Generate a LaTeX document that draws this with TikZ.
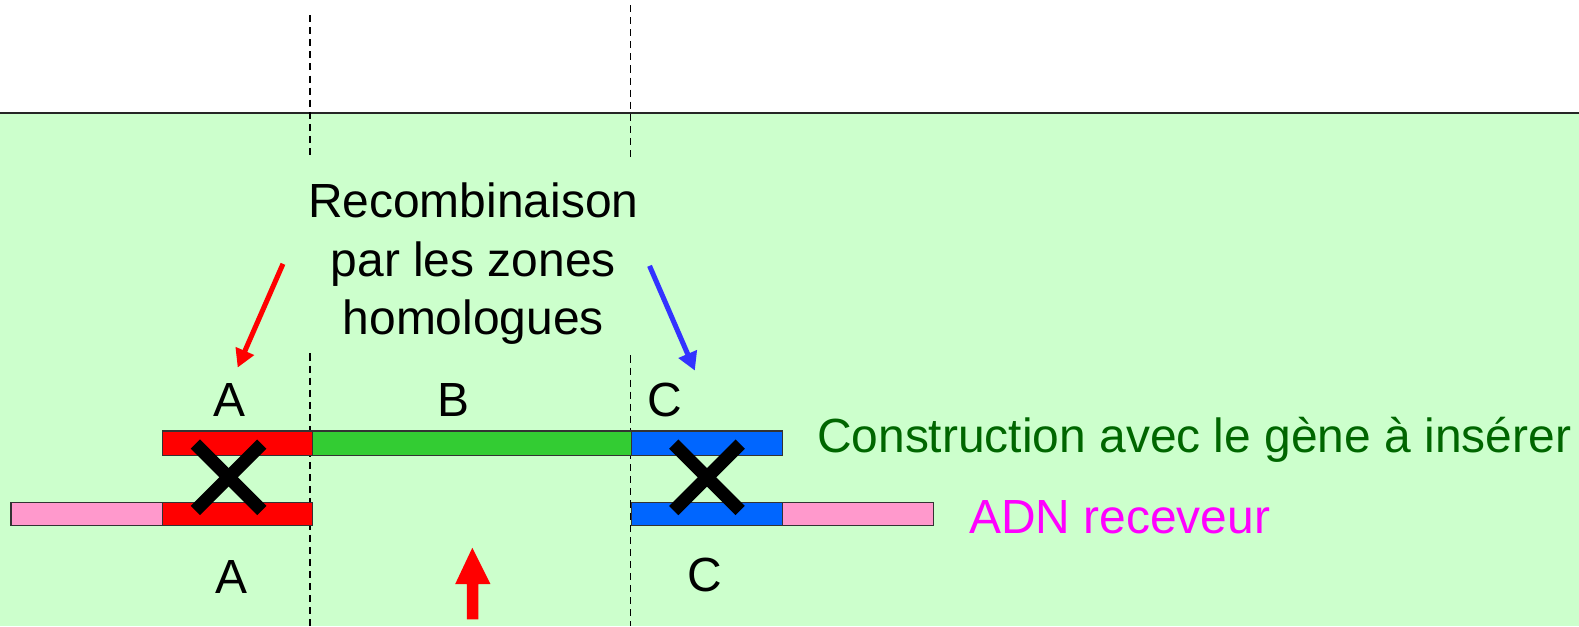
\documentclass[tikz,border=0pt]{standalone}
\usepackage{fontspec}
\setmainfont{Liberation Sans}
\usetikzlibrary{arrows.meta}
\definecolor{bggreen}{HTML}{CCFFCC}
\definecolor{bargreen}{HTML}{33CC33}
\definecolor{barred}{HTML}{FF0000}
\definecolor{barblue}{HTML}{0066FF}
\definecolor{barpink}{HTML}{FF99CC}
\definecolor{txtgreen}{HTML}{006600}
\definecolor{txtmag}{HTML}{FF00FF}
\definecolor{arrblue}{HTML}{3333FF}
\tikzset{
  bar/.style={draw=black!80, line width=0.6pt},
  guide/.style={draw=black, line width=0.8pt, dash pattern=on 3.5pt off 2.5pt},
  lbl/.style={inner sep=0pt, font=\fontsize{23.8pt}{29pt}\selectfont},
  cross/.style={line width=6.5pt, line cap=butt},
  pointer/.style={line width=2.5pt, -{Triangle[length=9pt,width=9.5pt]}}
}
\begin{document}
\begin{tikzpicture}[x=0.5pt,y=-0.5pt]
\useasboundingbox (0,0) rectangle (1568,622);
\fill[bggreen] (0,112) rectangle (1568,622);
\draw[line width=1pt, black!85] (0,112) -- (1568,112);
% dashed guides
\draw[guide] (308,15) -- (308,156);
\draw[guide] (626,5) -- (626,158);
\draw[guide] (308,351) -- (308,622);
\draw[guide] (626,353) -- (626,622);
% construction bar
\draw[bar, fill=barred] (161,428) rectangle (310,452);
\draw[bar, fill=bargreen] (310,428) rectangle (627,452);
\draw[bar, fill=barblue] (627,428) rectangle (777,452);
% receiver DNA
\draw[bar, fill=barpink] (11,499) rectangle (161,522);
\draw[bar, fill=barred] (161,499) rectangle (310,522);
\draw[bar, fill=barblue] (627,499) rectangle (777,522);
\draw[bar, fill=barpink] (777,499) rectangle (927,522);
% crosses
\coordinate (x1) at (227,474);
\coordinate (x2) at (702,474);
\draw[cross] ([shift={(-33,-33)}]x1) -- ([shift={(33,33)}]x1);
\draw[cross] ([shift={(33,-33)}]x1) -- ([shift={(-33,33)}]x1);
\draw[cross] ([shift={(-33,-33)}]x2) -- ([shift={(33,33)}]x2);
\draw[cross] ([shift={(33,-33)}]x2) -- ([shift={(-33,33)}]x2);
% labels
\node[lbl] (A1) at (228,397) {A};
\node[lbl] (B1) at (450,397) {B};
\node[lbl] (C1) at (660,397) {C};
\node[lbl] (A2) at (230,573) {A};
\node[lbl] (C2) at (700,571) {C};
\node[lbl, align=center] (rec) at (470,262) {Recombinaison\\par les zones\\homologues};
\node[lbl, anchor=base west, text=txtgreen] (cons) at (811,449) {Construction avec le gène à insérer};
\node[lbl, anchor=base west, text=txtmag] (adn) at (962,530) {ADN receveur};
% pointer arrows
\coordinate (rs) at (281,262);
\coordinate (re) at (236,365);
\coordinate (bs) at (645,264);
\coordinate (be) at (690,368);
\draw[pointer, barred] (rs) -- (re);
\draw[pointer, arrblue] (bs) -- (be);
% block arrow
\fill[barred] (469,544) -- (487,580) -- (475,580) -- (475,615) -- (463.5,615) -- (463.5,580) -- (452,580) -- cycle;
\end{tikzpicture}
\end{document}
